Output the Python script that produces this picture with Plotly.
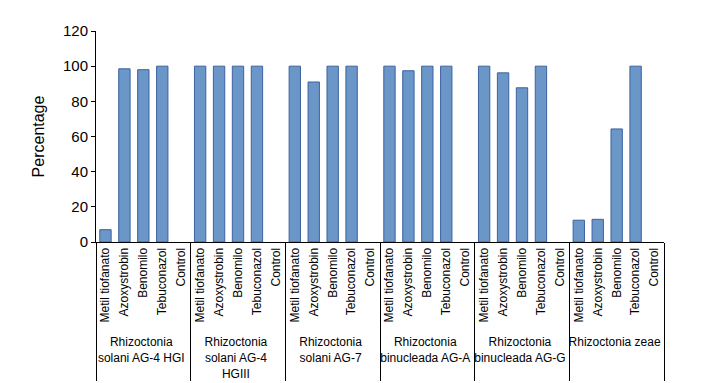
import plotly.graph_objects as go

groups = [
    "Rhizoctonia<br>solani AG-4 HGI",
    "Rhizoctonia<br>solani AG-4<br>HGIII",
    "Rhizoctonia<br>solani AG-7",
    "Rhizoctonia<br>binucleada AG-A",
    "Rhizoctonia<br>binucleada AG-G",
    "Rhizoctonia zeae",
]
treatments = ["Metil tiofanato", "Azoxystrobin", "Benomilo", "Tebuconazol", "Control"]

values_ag4_hgi = [7, 98.5, 98, 100, 0]
values_ag4_hgiii = [100, 100, 100, 100, 0]
values_ag7 = [100, 91, 100, 100, 0]
values_bin_aga = [100, 97.4, 100, 100, 0]
values_bin_agg = [100, 96.2, 87.7, 100, 0]
values_zeae = [12.4, 12.9, 64.3, 100, 0]

all_values = [values_ag4_hgi, values_ag4_hgiii, values_ag7, values_bin_aga, values_bin_agg, values_zeae]

x_outer, x_inner, y = [], [], []
for g, vals in zip(groups, all_values):
    for t, v in zip(treatments, vals):
        x_outer.append(g)
        x_inner.append(t)
        y.append(v)

line_widths = [1 if v > 0 else 0 for v in y]

fig = go.Figure(go.Bar(
    x=[x_outer, x_inner], y=y,
    marker=dict(color="#6A96C8", line=dict(color="#3C62A0", width=line_widths)),
))

font_family = "Liberation Sans, Arial, sans-serif"
fig.update_layout(
    width=704, height=383,
    margin=dict(l=88, r=48, t=23, b=149),
    paper_bgcolor="white", plot_bgcolor="white",
    font=dict(family=font_family, size=12, color="black"),
    bargap=0.4,
    showlegend=False,
    yaxis=dict(
        range=[0, 120], dtick=20, showgrid=False, zeroline=False,
        showline=True, linecolor="black", linewidth=1,
        ticks="outside", ticklen=4, tickcolor="black",
        tickfont=dict(size=15), automargin=False,
        title=dict(text="Percentage", font=dict(size=16), standoff=14),
    ),
    xaxis=dict(
        type="multicategory", showgrid=False, automargin=False,
        showline=True, linecolor="black", linewidth=1,
        ticks="", tickangle=-90, tickfont=dict(size=12),
        showdividers=True, dividercolor="black", dividerwidth=1,
    ),
)

fig.write_html("out.html")
